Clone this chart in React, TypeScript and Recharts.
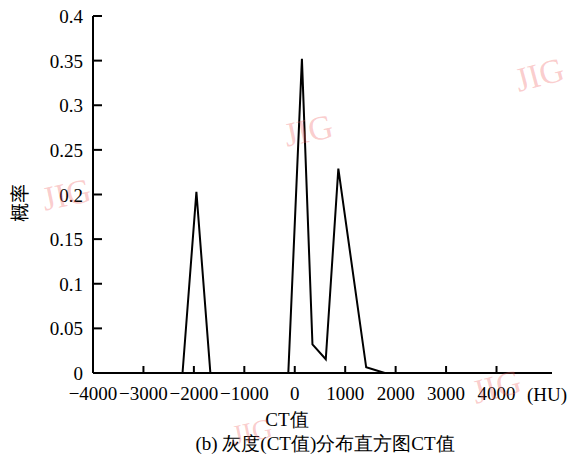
import { Line, LineChart, XAxis, YAxis } from "recharts";

const ctValues = [-2225, -1950, -1673, -128, 142, 351, 615, 864, 1416, 1785];
const probValues = [0, 0.203, 0, 0, 0.352, 0.032, 0.0154, 0.229, 0.0064, 0];
const xTicks = [-4000, -3000, -2000, -1000, 0, 1000, 2000, 3000, 4000];
const yTicks = [0, 0.05, 0.1, 0.15, 0.2, 0.25, 0.3, 0.35, 0.4];

const data = ctValues.map((ct, i) => ({ ct, p: probValues[i] }));

const FONT = '"Liberation Serif", "Times New Roman", serif';
const CJK = '"Noto Sans CJK SC", "Liberation Serif", serif';

const XTick = ({ x, y, payload }: any) => {
  const v = payload.value as number;
  const label = v < 0 ? "\u2212" + Math.abs(v) : String(v);
  return (
    <g>
      <line x1={x} x2={x} y1={y} y2={y - 7} stroke="#000" strokeWidth={2} />
      <text x={x} y={y + 27} textAnchor="middle" fontFamily={FONT} fontSize={19} fill="#000">
        {label}
      </text>
    </g>
  );
};

const YTick = ({ x, y, payload }: any) => (
  <g>
    <line x1={x} x2={x + 9} y1={y} y2={y} stroke="#000" strokeWidth={2} />
    <text x={x - 10} y={y + 7} textAnchor="end" fontFamily={FONT} fontSize={19} fill="#000">
      {String(payload.value)}
    </text>
  </g>
);

// faint "JIG" watermarks
const mark = (left: number, top: number, rot: number, size = 34) => (
  <div
    style={{
      position: "absolute",
      left,
      top,
      transform: `rotate(${rot}deg)`,
      fontFamily: FONT,
      fontSize: size,
      lineHeight: 1,
      color: "rgba(240, 100, 100, 0.32)",
      pointerEvents: "none",
    }}
  >
    JIG
  </div>
);

export default function App() {
  return (
    <div style={{ position: "relative", width: 567, height: 456, background: "#fff" }}>
      <style>{`body{margin:0}`}</style>
      <LineChart width={567} height={456} data={data} margin={{ top: 16, right: 15, bottom: 0, left: 0 }}>
        <XAxis
          dataKey="ct"
          type="number"
          domain={[-4000, 5100]}
          ticks={xTicks}
          interval={0}
          height={83}
          tickSize={0}
          tickMargin={0}
          tickLine={false}
          axisLine={{ stroke: "#000", strokeWidth: 2 }}
          tick={<XTick />}
        />
        <YAxis
          type="number"
          domain={[0, 0.4]}
          ticks={yTicks}
          interval={0}
          width={93}
          tickSize={0}
          tickMargin={0}
          tickLine={false}
          axisLine={{ stroke: "#000", strokeWidth: 2 }}
          tick={<YTick />}
        />
        <Line
          dataKey="p"
          type="linear"
          stroke="#000"
          strokeWidth={2}
          dot={false}
          isAnimationActive={false}
        />
      </LineChart>
      <div style={{ position: "absolute", left: 527, top: 384, fontFamily: FONT, fontSize: 19 }}>(HU)</div>
      <div
        style={{
          position: "absolute",
          left: 0,
          width: 574,
          top: 407,
          textAlign: "center",
          fontFamily: FONT,
          fontSize: 19,
        }}
      >
        CT值
      </div>
      <div
        style={{
          position: "absolute",
          left: 0,
          width: 650,
          top: 431,
          textAlign: "center",
          fontFamily: FONT,
          fontSize: 19,
        }}
      >
        (b) 灰度(CT值)分布直方图CT值
      </div>
      <div
        style={{
          position: "absolute",
          left: 18,
          top: 203,
          transform: "translate(-50%, -50%) rotate(-90deg)",
          fontFamily: CJK,
          fontSize: 19,
          whiteSpace: "nowrap",
        }}
      >
        概率
      </div>
      {mark(284, 114, -12)}
      {mark(42, 178, -12)}
      {mark(515, 58, -15)}
      {mark(472, 370, -15)}
      {mark(232, 418, -12, 28)}
    </div>
  );
}
